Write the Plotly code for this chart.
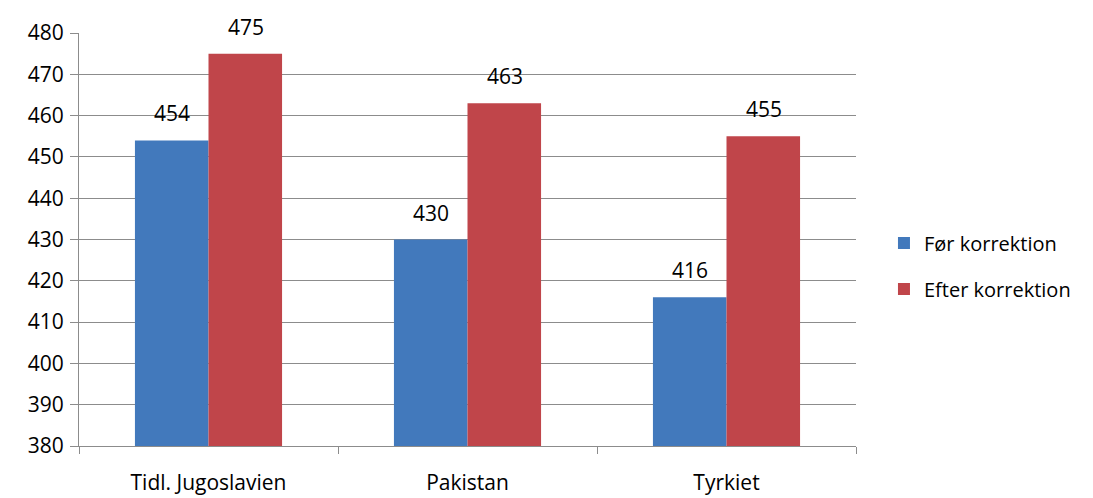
import plotly.graph_objects as go

categories = ["Tidl. Jugoslavien", "Pakistan", "Tyrkiet"]
series_names = ["Før korrektion", "Efter korrektion"]
before = [454, 430, 416]
after = [475, 463, 455]
colors = ["#4279BC", "#C0454A"]
y_ticks = list(range(380, 481, 10))

FONT = "Open Sans, Liberation Sans, sans-serif"
FS = 21

fig = go.Figure()
for i, (name, vals) in enumerate(zip(series_names, [before, after])):
    fig.add_trace(go.Bar(
        x=categories, y=vals, name=name, marker_color=colors[i],
        marker_line_width=0, legendgroup=name,
    ))
    for c, v in zip(categories, vals):
        fig.add_annotation(
            x=c, y=v, text=str(v), showarrow=False, xref="x", yref="y",
            xshift=(-37 if i == 0 else 37), yanchor="bottom", yshift=11,
            font=dict(size=FS, color="#000000", family=FONT),
        )

fig.update_layout(
    width=1085, height=490,
    margin=dict(l=71, r=237, t=25, b=52, autoexpand=False),
    paper_bgcolor="white", plot_bgcolor="white",
    barmode="group", bargap=0.432, bargroupgap=0,
    font=dict(family=FONT, size=FS, color="#000000"),
    legend=dict(
        x=1.036, y=0.436, xanchor="left", yanchor="middle",
        font=dict(size=20, family=FONT), traceorder="grouped",
        tracegroupgap=17, itemwidth=30,
    ),
)
fig.update_yaxes(
    range=[380, 480], tickvals=y_ticks, showgrid=True, gridcolor="#8C8C8C",
    gridwidth=1, showline=True, linecolor="#8C8C8C", linewidth=1,
    ticks="outside", ticklen=8, tickcolor="#8C8C8C",
    tickfont=dict(size=FS), zeroline=False, ticklabelstandoff=2,
    automargin=False,
)
fig.update_xaxes(
    showline=True, linecolor="#8C8C8C", linewidth=1, ticks="outside",
    tickson="boundaries", ticklen=7, tickcolor="#8C8C8C",
    tickfont=dict(size=FS), ticklabelstandoff=18, automargin=False,
)
fig.write_html("out.html")
